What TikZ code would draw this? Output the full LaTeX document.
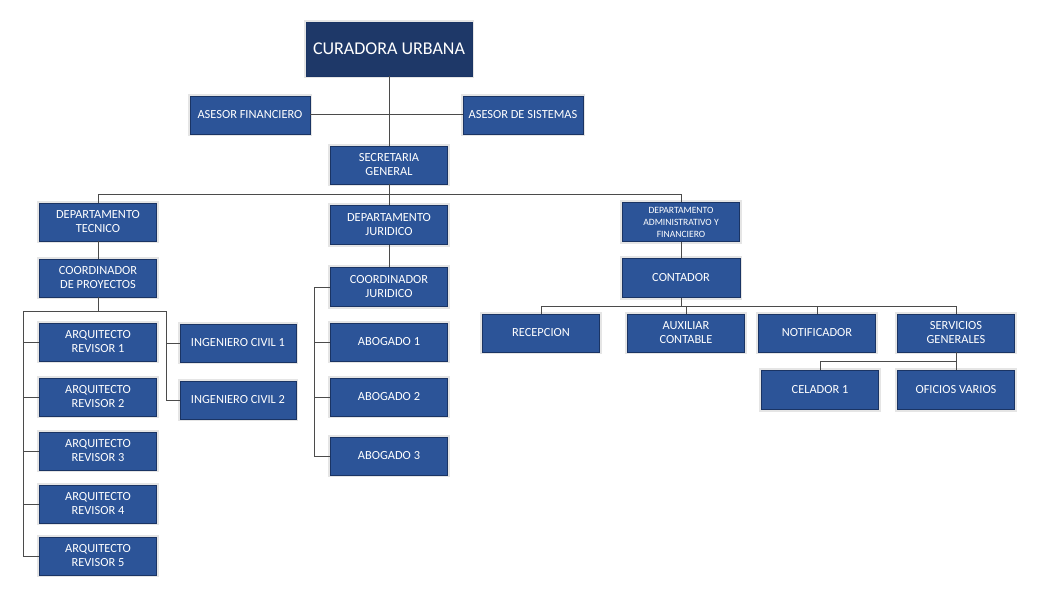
\documentclass[tikz,border=0pt]{standalone}
\usepackage{fontspec}
\setmainfont{Carlito}
\definecolor{boxblue}{RGB}{44,84,152}
\definecolor{boxedge}{RGB}{26,52,100}
\definecolor{topblue}{RGB}{30,56,104}
\definecolor{linegray}{RGB}{75,75,75}
\begin{document}
\begin{tikzpicture}[x=1pt,y=-1pt,
  box/.style={rectangle, fill=boxblue, draw=boxedge, line width=0.7pt,
    text=white, align=center, inner sep=0pt, minimum width=117pt, minimum height=38pt,
    font=\fontsize{12.4}{14}\selectfont,
    preaction={draw=black!10, line width=4.5pt}},
  topbox/.style={box, fill=topblue, minimum width=166pt, minimum height=54pt,
    font=\fontsize{18}{20}\selectfont},
  conn/.style={draw=linegray, line width=1pt}]
\useasboundingbox (0,0) rectangle (1059,607);
\fill[white] (0,0) rectangle (1059,607);

% nodes
\node[topbox] (cur) at (389,49) {CURADORA URBANA};
\node[box, minimum width=120pt] (af) at (250,115) {ASESOR FINANCIERO};
\node[box, minimum width=120pt] (as) at (523,115) {ASESOR DE SISTEMAS};
\node[box] (sec) at (389,165) {SECRETARIA\\GENERAL};

\node[box] (dt) at (98,222) {DEPARTAMENTO\\TECNICO};
\node[box, minimum height=39pt] (dj) at (389,225) {DEPARTAMENTO\\JURIDICO};
\node[box, minimum height=39pt, font=\fontsize{9.6}{12}\selectfont] (dadm) at (681,222) {DEPARTAMENTO\\ADMINISTRATIVO Y\\FINANCIERO};

\node[box] (cp) at (98,278) {COORDINADOR\\DE PROYECTOS};
\node[box] (ar1) at (98,342) {ARQUITECTO\\REVISOR 1};
\node[box] (ar2) at (98,397) {ARQUITECTO\\REVISOR 2};
\node[box] (ar3) at (98,451) {ARQUITECTO\\REVISOR 3};
\node[box] (ar4) at (98,504) {ARQUITECTO\\REVISOR 4};
\node[box] (ar5) at (98,556) {ARQUITECTO\\REVISOR 5};
\node[box, minimum width=116pt] (ic1) at (238,343) {INGENIERO CIVIL 1};
\node[box, minimum width=116pt] (ic2) at (238,400) {INGENIERO CIVIL 2};

\node[box, minimum height=39pt] (cj) at (389,287) {COORDINADOR\\JURIDICO};
\node[box] (ab1) at (389,342) {ABOGADO 1};
\node[box] (ab2) at (389,397) {ABOGADO 2};
\node[box] (ab3) at (389,456) {ABOGADO 3};

\node[box, minimum width=118pt, minimum height=39pt] (cont) at (681,278) {CONTADOR};
\node[box] (rec) at (541,333) {RECEPCION};
\node[box] (aux) at (686,333) {AUXILIAR\\CONTABLE};
\node[box] (not) at (817,333) {NOTIFICADOR};
\node[box] (sg) at (956,333) {SERVICIOS\\GENERALES};
\node[box, minimum height=39pt] (cel) at (820,390) {CELADOR 1};
\node[box, minimum height=39pt] (of) at (956,390) {OFICIOS VARIOS};

% junction coordinates
\coordinate (secbar) at (0,194);
\coordinate (lt) at (23,311);
\coordinate (rt) at (166,311);
\coordinate (jl) at (314,0);
\coordinate (cbar) at (0,306);
\coordinate (sbar) at (0,361);

% connectors
\draw[conn] (cur.south) -- (sec.north);
\draw[conn] (af.east) -- (as.west);
\draw[conn] (sec.south) -- (sec.south |- secbar);
\draw[conn] (dt.north) -- (dt.north |- secbar) -- (dadm.north |- secbar) -- (dadm.north);
\draw[conn] (dj.north |- secbar) -- (dj.north);
\draw[conn] (dt.south) -- (cp.north);
\draw[conn] (dj.south) -- (cj.north);
\draw[conn] (dadm.south) -- (cont.north);

% tecnico branch
\draw[conn] (cp.south) -- (cp.south |- lt);
\draw[conn] (lt) -- (rt);
\draw[conn] (lt) |- (ar5.west);
\draw[conn] (lt |- ar1) -- (ar1.west);
\draw[conn] (lt |- ar2) -- (ar2.west);
\draw[conn] (lt |- ar3) -- (ar3.west);
\draw[conn] (lt |- ar4) -- (ar4.west);
\draw[conn] (rt) |- (ic2.west);
\draw[conn] (rt |- ic1) -- (ic1.west);

% juridico branch
\draw[conn] (cj.west) -- (jl |- cj) |- (ab3.west);
\draw[conn] (jl |- ab1) -- (ab1.west);
\draw[conn] (jl |- ab2) -- (ab2.west);

% administrativo branch
\draw[conn] (cont.south) -- (cont.south |- cbar);
\draw[conn] (rec.north) -- (rec.north |- cbar) -- (sg.north |- cbar) -- (sg.north);
\draw[conn] (aux.north |- cbar) -- (aux.north);
\draw[conn] (not.north |- cbar) -- (not.north);
\draw[conn] (sg.south) -- (of.north);
\draw[conn] (cel.north) -- (cel.north |- sbar) -- (sg.south |- sbar);
\end{tikzpicture}
\end{document}
